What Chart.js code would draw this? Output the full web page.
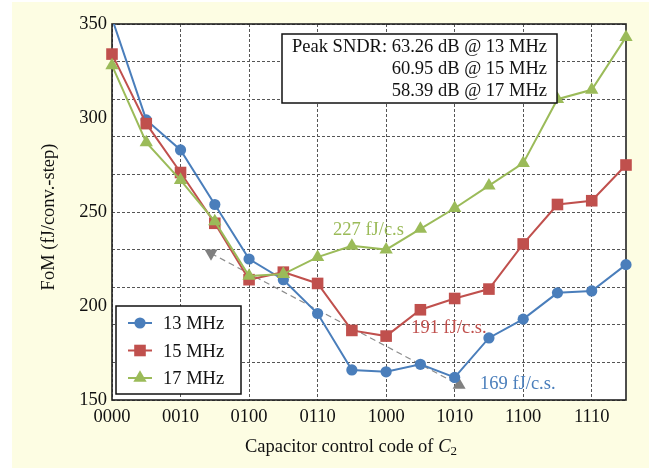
<!DOCTYPE html>
<html><head><meta charset="utf-8">
<script src="https://cdn.jsdelivr.net/npm/chart.js@4.4.0/dist/chart.umd.min.js"></script>
<style>html,body{margin:0;padding:0;background:#fff;} #wrap{position:relative;width:649px;height:468px;} canvas{display:block;}</style>
</head><body><div id="wrap"><canvas id="c" width="649" height="468"></canvas></div>
<script>
// ---- data ----
const codes = ['0000','0001','0010','0011','0100','0101','0110','0111','1000','1001','1010','1011','1100','1101','1110','1111'];
const fom13 = [353, 299, 283, 254, 225, 214, 196, 166, 165, 169, 162, 183, 193, 207, 208, 222];
const fom15 = [334, 297, 271, 244, 214, 218, 212, 187, 184, 198, 204, 209, 233, 254, 256, 275];
const fom17 = [328, 287, 267, 245, 216, 217, 226, 232, 230, 241, 252, 264, 276, 310, 315, 343];
const trendX = [2.89, 10.13];
const trendY = [228, 158];
const seriesNames = ['13 MHz', '15 MHz', '17 MHz'];
const peakLines = ['Peak SNDR: 63.26 dB @ 13 MHz', '60.95 dB @ 15 MHz', '58.39 dB @ 17 MHz'];
const noteText = ['227 fJ/c.s', '191 fJ/c.s.', '169 fJ/c.s.'];
const noteX = [6.45, 8.73, 10.74];
const noteY = [237.8, 185.8, 155.7];
const yMin = 150, yMax = 350;

// ---- styles ----
const BLUE = '#4a7ebb', RED = '#c0504d', GREEN = '#9bbb59', GRAY = '#808080';
const COLORS = [BLUE, RED, GREEN];
const STYLES = ['circle', 'rect', 'triangle'];
const RADII = [5.6, 8.2, 7.7];
const FONT = "'Liberation Serif', 'Times New Roman', serif";
const FS = 18.5;

function drawMarker(ctx, style, x, y, r, color) {
  ctx.save();
  ctx.fillStyle = color;
  ctx.beginPath();
  if (style === 'circle') {
    ctx.arc(x, y, r, 0, Math.PI * 2);
  } else if (style === 'rect') {
    const s = r * Math.SQRT1_2;
    ctx.rect(x - s, y - s, 2 * s, 2 * s);
  } else {
    ctx.moveTo(x, y - r);
    ctx.lineTo(x + r * Math.sin(2 * Math.PI / 3), y - r * Math.cos(2 * Math.PI / 3));
    ctx.lineTo(x + r * Math.sin(4 * Math.PI / 3), y - r * Math.cos(4 * Math.PI / 3));
    ctx.closePath();
  }
  ctx.fill();
  ctx.restore();
}

const bgPlugin = {
  id: 'bg',
  beforeDraw(chart) {
    const ctx = chart.ctx, a = chart.chartArea;
    ctx.save();
    ctx.fillStyle = '#ffffff';
    ctx.fillRect(0, 0, chart.width, chart.height);
    ctx.fillStyle = '#fdfde3';
    ctx.fillRect(12, 2, chart.width - 12, chart.height - 2);
    ctx.fillStyle = '#ffffff';
    ctx.fillRect(a.left, a.top, a.right - a.left, a.bottom - a.top);
    ctx.restore();
  },
  beforeDatasetsDraw(chart) {
    const ctx = chart.ctx, a = chart.chartArea;
    ctx.save();
    ctx.strokeStyle = '#222';
    ctx.lineWidth = 1.6;
    ctx.strokeRect(a.left, a.top, a.right - a.left, a.bottom - a.top);
    ctx.restore();
  },
  afterDatasetsDraw(chart) {
    const ctx = chart.ctx, a = chart.chartArea;
    const xs = chart.scales.x, ys = chart.scales.y;
    ctx.save();
    // notes
    ctx.font = FS + 'px ' + FONT;
    ctx.textBaseline = 'alphabetic';
    ctx.textAlign = 'left';
    for (let i = 0; i < noteText.length; i++) {
      ctx.fillStyle = COLORS[i === 0 ? 2 : (i === 1 ? 1 : 0)];
      ctx.fillText(noteText[i], xs.getPixelForValue(noteX[i]), ys.getPixelForValue(noteY[i]));
    }
    // peak box
    const bx = a.left + 170, by = a.top + 10, bw = 275, bh = 69;
    ctx.fillStyle = '#fff';
    ctx.fillRect(bx, by, bw, bh);
    ctx.strokeStyle = '#111';
    ctx.lineWidth = 1.5;
    ctx.strokeRect(bx, by, bw, bh);
    ctx.fillStyle = '#111';
    ctx.textAlign = 'right';
    for (let i = 0; i < peakLines.length; i++) {
      ctx.fillText(peakLines[i], bx + bw - 10, by + 18 + i * 22);
    }
    // legend box
    const lx = a.left + 4, ly = a.bottom - 94, lw = 125, lh = 88;
    ctx.fillStyle = '#fff';
    ctx.fillRect(lx, ly, lw, lh);
    ctx.strokeRect(lx, ly, lw, lh);
    ctx.textAlign = 'left';
    ctx.textBaseline = 'alphabetic';
    for (let i = 0; i < seriesNames.length; i++) {
      const cy = ly + 17 + i * 27.5;
      ctx.strokeStyle = COLORS[i];
      ctx.lineWidth = 2;
      ctx.beginPath();
      ctx.moveTo(lx + 12, cy);
      ctx.lineTo(lx + 36, cy);
      ctx.stroke();
      drawMarker(ctx, STYLES[i], lx + 24, cy, RADII[i], COLORS[i]);
      ctx.fillStyle = '#111';
      ctx.fillText(seriesNames[i], lx + 47, cy + 6);
    }
    ctx.restore();
  },
  afterDraw(chart) {
    const ctx = chart.ctx, a = chart.chartArea;
    ctx.save();
    ctx.fillStyle = '#111';
    // x title
    const p1 = 'Capacitor control code of ';
    ctx.font = FS + 'px ' + FONT;
    const w1 = ctx.measureText(p1).width;
    ctx.font = 'italic ' + FS + 'px ' + FONT;
    const w2 = ctx.measureText('C').width;
    ctx.font = '13px ' + FONT;
    const w3 = ctx.measureText('2').width;
    const total = w1 + w2 + w3;
    const cx = (a.left + a.right) / 2 - 18;
    let x0 = cx - total / 2;
    const base = 452;
    ctx.textAlign = 'left';
    ctx.textBaseline = 'alphabetic';
    ctx.font = FS + 'px ' + FONT;
    ctx.fillText(p1, x0, base);
    ctx.font = 'italic ' + FS + 'px ' + FONT;
    ctx.fillText('C', x0 + w1, base);
    ctx.font = '13px ' + FONT;
    ctx.fillText('2', x0 + w1 + w2, base + 3);
    // y title
    ctx.translate(49, (a.top + a.bottom) / 2 + 5);
    ctx.rotate(-Math.PI / 2);
    ctx.font = FS + 'px ' + FONT;
    ctx.textAlign = 'center';
    ctx.textBaseline = 'middle';
    ctx.fillText('FoM (fJ/conv.-step)', 0, 0);
    ctx.restore();
  }
};

const clip = {left: 12, top: 0, right: 12, bottom: 12};
const series = [fom13, fom15, fom17].map((arr, k) => ({
  label: seriesNames[k],
  data: arr.map((v, i) => ({x: i, y: v})),
  borderColor: COLORS[k],
  backgroundColor: COLORS[k],
  borderWidth: 2,
  pointStyle: STYLES[k],
  pointRadius: RADII[k],
  pointBorderWidth: 0,
  pointBackgroundColor: COLORS[k],
  order: 3 - k,
  clip: clip
}));
series.push({
  label: 'trend',
  data: trendX.map((x, i) => ({x: x, y: trendY[i]})),
  borderColor: '#8c8c8c',
  backgroundColor: GRAY,
  borderWidth: 1.2,
  borderDash: [6, 4],
  pointStyle: 'triangle',
  pointRadius: 7.5,
  pointRotation: [180, 0],
  pointBorderWidth: 0,
  pointBackgroundColor: GRAY,
  order: 4,
  clip: clip
});

new Chart(document.getElementById('c'), {
  type: 'line',
  data: {datasets: series},
  options: {
    responsive: false,
    animation: false,
    devicePixelRatio: 1,
    layout: {padding: {left: 0, top: 24, right: 23, bottom: 0}},
    plugins: {legend: {display: false}, tooltip: {enabled: false}},
    elements: {line: {tension: 0}},
    scales: {
      x: {
        type: 'linear', min: 0, max: codes.length - 1,
        afterFit(s) { s.height = 68; },
        ticks: {
          stepSize: 1, autoSkip: false, maxRotation: 0, padding: 6,
          callback: (v) => (v % 2 === 0 ? codes[v] : ''),
          font: {family: FONT, size: FS}, color: '#111'
        },
        grid: {
          color: (c) => (c.tick && c.tick.value % 2 === 0 ? '#555' : 'rgba(0,0,0,0)'),
          lineWidth: 1, drawTicks: false
        },
        border: {display: false, dash: [3, 2]}
      },
      y: {
        min: yMin, max: yMax,
        afterFit(s) { s.width = 112; },
        ticks: {
          stepSize: 10, autoSkip: false, padding: 5,
          callback: (v) => (v % 50 === 0 ? String(v) : ''),
          font: {family: FONT, size: FS}, color: '#111'
        },
        grid: {
          color: (c) => (c.tick && (c.tick.value - yMin) % 20 === 0 ? '#555' : 'rgba(0,0,0,0)'),
          lineWidth: 1, drawTicks: false
        },
        border: {display: false, dash: [3, 2]}
      }
    }
  },
  plugins: [bgPlugin]
});
</script>
</body></html>
